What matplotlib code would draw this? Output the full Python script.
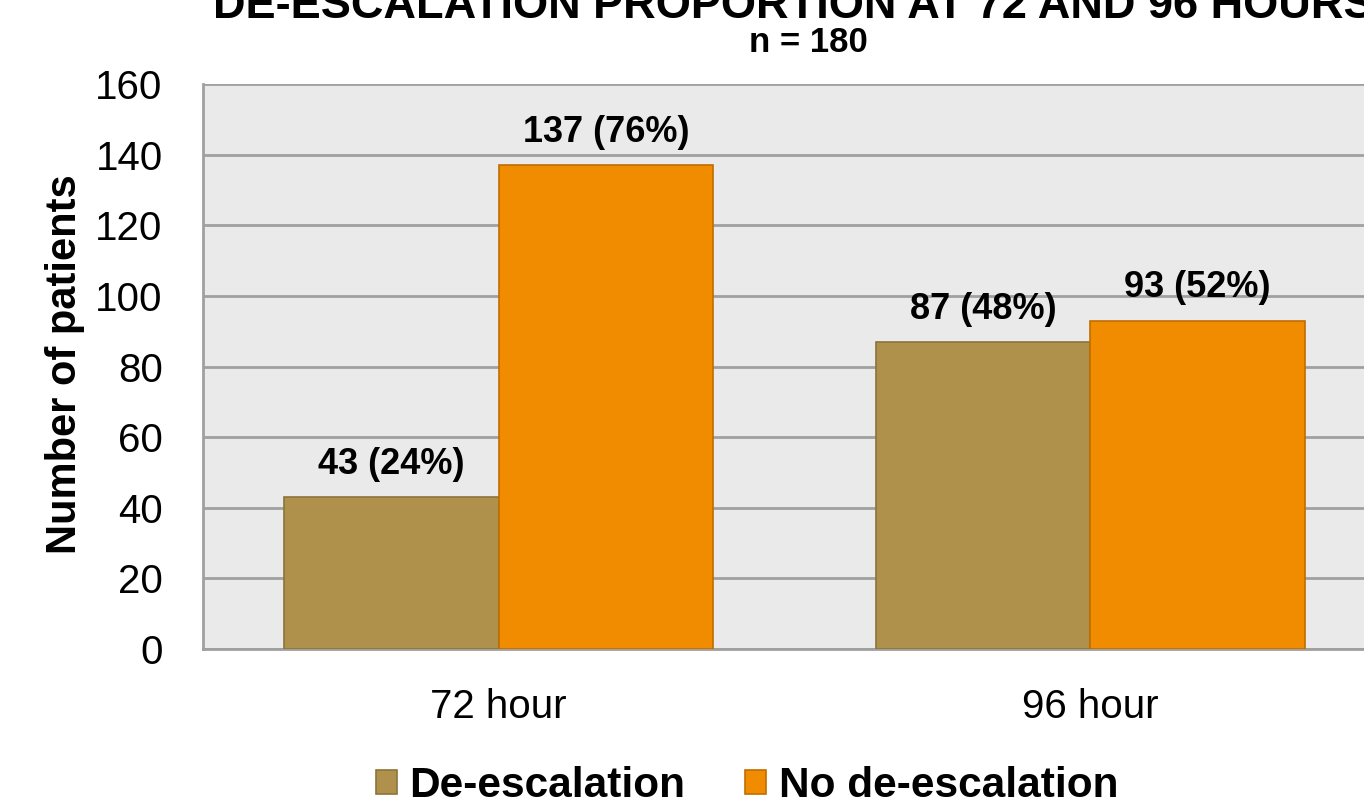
import matplotlib
matplotlib.use("Agg")
import matplotlib.pyplot as plt
import numpy as np

plt.rcParams["font.family"] = ["Liberation Sans", "DejaVu Sans"]

categories = ["72 hour", "96 hour"]
deesc = [43, 87]
no_deesc = [137, 93]
deesc_pct = [24, 48]
no_deesc_pct = [76, 52]

c_deesc = "#AF914B"
c_no = "#F18C00"

fig = plt.figure(figsize=(13.64, 8.07), dpi=100)
ax = fig.add_axes([203 / 1364, 158 / 807, 1183 / 1364, 565 / 807])
ax.set_facecolor("#EAEAEA")

x = np.arange(len(categories))
w = 0.363
b1 = ax.bar(x - w / 2, deesc, w, color=c_deesc, edgecolor="#8C733A", linewidth=1.2,
            label="De-escalation", zorder=3)
b2 = ax.bar(x + w / 2, no_deesc, w, color=c_no, edgecolor="#C06E00", linewidth=1.2,
            label="No de-escalation", zorder=3)

# value + share above each bar
for bars, vals, pcts in [(b1, deesc, deesc_pct), (b2, no_deesc, no_deesc_pct)]:
    for rect, v, p in zip(bars, vals, pcts):
        ax.annotate(f"{v} ({p}%)", (rect.get_x() + rect.get_width() / 2, v),
                    xytext=(0, 11), textcoords="offset points",
                    ha="center", va="bottom", fontsize=26, fontweight="bold")

ax.set_xlim(-0.5, 1.5)
ax.set_ylim(0, 160)
ax.set_yticks(range(0, 161, 20))
ax.set_xticks(x)
ax.set_xticklabels(categories)
ax.tick_params(axis="both", length=0, labelsize=29)
ax.tick_params(axis="x", pad=28)
ax.tick_params(axis="y", pad=29)
ax.grid(axis="y", color="#A0A0A0", linewidth=2, zorder=1)
for side in ["top", "right"]:
    ax.spines[side].set_visible(False)
for side in ["left", "bottom"]:
    ax.spines[side].set_color("#A0A0A0")
    ax.spines[side].set_linewidth(2)
ax.spines["left"].set_zorder(4)

ax.set_ylabel("Number of patients", fontsize=30, fontweight="bold", va="center")
ax.yaxis.set_label_coords(-0.1167, 0.504)

fig.text(793 / 1364, 1 - 18 / 807, "DE-ESCALATION PROPORTION AT 72 AND 96 HOURS",
         ha="center", va="baseline", fontsize=32.5, fontweight="bold")
fig.text(808 / 1364, 1 - 52 / 807, "n = 180", ha="center", va="baseline",
         fontsize=25, fontweight="bold")

fig.legend(handles=[b1, b2], loc="center", bbox_to_anchor=(747 / 1364, 1 - 786 / 807),
           ncol=2, frameon=False, prop={"weight": "bold", "size": 30.5},
           handlelength=0.5, handleheight=0.5, handletextpad=0.3, columnspacing=1.4)

fig.savefig("out.png", dpi=100)
